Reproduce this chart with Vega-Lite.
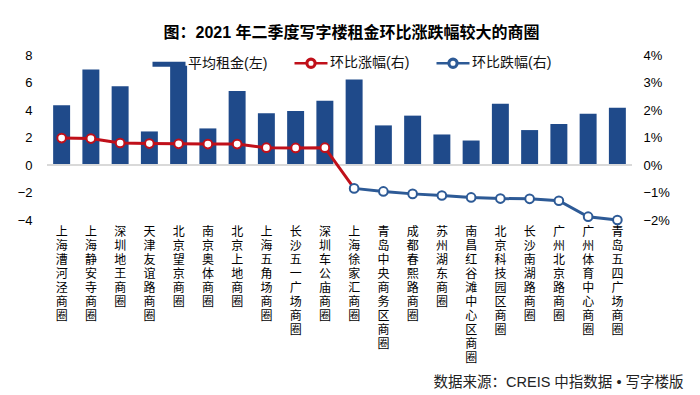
{
  "$schema": "https://vega.github.io/schema/vega-lite/v6.json",
  "autosize": {"type": "none"},
  "width": 585,
  "height": 165,
  "padding": {"left": 47, "top": 55, "right": 68, "bottom": 175},
  "background": "white",
  "config": {
    "font": "Liberation Sans, Noto Sans CJK SC",
    "view": {"stroke": null}
  },
  "title": {
    "text": "图：2021 年二季度写字楼租金环比涨跌幅较大的商圈",
    "font": "Liberation Sans, Noto Sans CJK SC",
    "fontSize": 16,
    "fontWeight": "bold",
    "color": "#000000",
    "anchor": "middle",
    "offset": 8,
    "dy": 4,
    "dx": 12
  },
  "data": {
    "values": [
      {"name": "上海漕河泾商圈", "rent": 4.34, "up": 0.0098, "upLine": 0.0098, "down": null},
      {"name": "上海静安寺商圈", "rent": 6.95, "up": 0.0096, "upLine": 0.0096, "down": null},
      {"name": "深圳地王商圈", "rent": 5.73, "up": 0.0080, "upLine": 0.0080, "down": null},
      {"name": "天津友谊路商圈", "rent": 2.44, "up": 0.0078, "upLine": 0.0078, "down": null},
      {"name": "北京望京商圈", "rent": 7.22, "up": 0.0077, "upLine": 0.0077, "down": null},
      {"name": "南京奥体商圈", "rent": 2.66, "up": 0.0076, "upLine": 0.0076, "down": null},
      {"name": "北京上地商圈", "rent": 5.39, "up": 0.0076, "upLine": 0.0076, "down": null},
      {"name": "上海五角场商圈", "rent": 3.76, "up": 0.0063, "upLine": 0.0063, "down": null},
      {"name": "长沙五一广场商圈", "rent": 3.93, "up": 0.0062, "upLine": 0.0062, "down": null},
      {"name": "深圳车公庙商圈", "rent": 4.68, "up": 0.0063, "upLine": 0.0063, "down": null},
      {"name": "上海徐家汇商圈", "rent": 6.22, "up": null, "upLine": -0.0085, "down": -0.0085},
      {"name": "青岛中央商务区商圈", "rent": 2.88, "up": null, "upLine": null, "down": -0.0096},
      {"name": "成都春熙路商圈", "rent": 3.59, "up": null, "upLine": null, "down": -0.0105},
      {"name": "苏州湖东商圈", "rent": 2.22, "up": null, "upLine": null, "down": -0.0111},
      {"name": "南昌红谷滩中心区商圈", "rent": 1.78, "up": null, "upLine": null, "down": -0.0118},
      {"name": "北京科技园区商圈", "rent": 4.46, "up": null, "upLine": null, "down": -0.0122},
      {"name": "长沙南湖路商圈", "rent": 2.54, "up": null, "upLine": null, "down": -0.0123},
      {"name": "广州北京路商圈", "rent": 2.98, "up": null, "upLine": null, "down": -0.0130},
      {"name": "广州体育中心商圈", "rent": 3.73, "up": null, "upLine": null, "down": -0.0188},
      {"name": "青岛五四广场商圈", "rent": 4.17, "up": null, "upLine": null, "down": -0.0200}
    ]
  },
  "encoding": {
    "x": {
      "field": "name",
      "type": "nominal",
      "sort": null,
      "scale": {"paddingInner": 0.42, "paddingOuter": 0.21},
      "axis": {
        "orient": "bottom",
        "domain": false,
        "ticks": false,
        "labelAngle": 0,
        "labelExpr": "split(datum.label, '')",
        "labelFont": "Noto Sans CJK SC",
        "labelFontSize": 12,
        "labelLineHeight": 14,
        "labelBaseline": "top",
        "labelPadding": 6,
        "labelColor": "#000000",
        "labelLimit": 0,
        "title": "数据来源：CREIS 中指数据 • 写字楼版",
        "titleFont": "Liberation Sans, Noto Sans CJK SC",
        "titleFontSize": 14.5,
        "titleFontWeight": "normal",
        "titleColor": "#222222",
        "titleAnchor": "end",
        "titleAlign": "right",
        "titleBaseline": "middle",
        "titleX": 636,
        "titleY": 162
      }
    }
  },
  "layer": [
    {
      "mark": {"type": "bar"},
      "encoding": {
        "y": {
          "field": "rent",
          "type": "quantitative",
          "scale": {"domain": [-4, 8], "nice": false, "zero": false},
          "axis": {
            "orient": "left",
            "values": [-4, -2, 0, 2, 4, 6, 8],
            "grid": false,
            "domain": false,
            "ticks": false,
            "labelPadding": 15,
            "labelFontSize": 13,
            "labelColor": "#000000",
            "title": null
          }
        },
        "color": {
          "datum": "平均租金(左)",
          "type": "nominal",
          "scale": {
            "domain": ["平均租金(左)", "环比涨幅(右)", "环比跌幅(右)"],
            "range": ["#1f4a8a", "#c0101a", "#2d5a96"]
          },
          "legend": {
            "orient": "none",
            "legendX": 104,
            "legendY": -10,
            "direction": "horizontal",
            "title": null,
            "symbolSize": 1089,
            "labelFont": "Liberation Sans, Noto Sans CJK SC",
            "labelFontSize": 14,
            "labelColor": "#111111",
            "labelOffset": 1,
            "columnPadding": 21,
            "labelLimit": 0,
            "encode": {
              "symbols": {
                "update": {
                  "shape": {"signal": "datum.value === '平均租金(左)' ? 'M-1,-0.15H1V0.15H-1Z' : 'M-1,0H-0.27M0.27,0H1M-0.27,0A0.27,0.27 0 1,1 0.27,0A0.27,0.27 0 1,1 -0.27,0ZM-0.23,0A0.23,0.23 0 1,0 0.23,0A0.23,0.23 0 1,0 -0.23,0Z'"},
                  "stroke": {"signal": "datum.value === '平均租金(左)' ? 'transparent' : (datum.value === '环比涨幅(右)' ? '#c0101a' : '#2d5a96')"},
                  "strokeWidth": {"value": 2.5},
                  "opacity": {"value": 1}
                }
              }
            }
          }
        }
      }
    },
    {
      "mark": {"type": "rule", "color": "#d9d9d9", "strokeWidth": 2},
      "encoding": {
        "x": {"value": 0},
        "x2": {"value": 585},
        "y": {"datum": 0, "type": "quantitative", "scale": {"domain": [-4, 8], "nice": false, "zero": false}, "axis": null}
      }
    },
    {
      "layer": [
        {
          "mark": {"type": "line", "color": "#c0101a", "strokeWidth": 3},
          "encoding": {
            "y": {"field": "upLine", "type": "quantitative"}
          }
        },
        {
          "mark": {"type": "line", "color": "#2d5a96", "strokeWidth": 3},
          "encoding": {
            "y": {"field": "down", "type": "quantitative"}
          }
        },
        {
          "mark": {"type": "point", "shape": "circle", "filled": true, "fill": "#ffffff", "stroke": "#c0101a", "strokeWidth": 2, "size": 75, "opacity": 1},
          "encoding": {
            "y": {"field": "up", "type": "quantitative"}
          }
        },
        {
          "mark": {"type": "point", "shape": "circle", "filled": true, "fill": "#ffffff", "stroke": "#2d5a96", "strokeWidth": 2, "size": 75, "opacity": 1},
          "encoding": {
            "y": {"field": "down", "type": "quantitative"}
          }
        }
      ],
      "encoding": {
        "y": {
          "type": "quantitative",
          "scale": {"domain": [-0.02, 0.04], "nice": false, "zero": false},
          "axis": {
            "orient": "right",
            "values": [-0.02, -0.01, 0, 0.01, 0.02, 0.03, 0.04],
            "format": ".0%",
            "grid": false,
            "domain": false,
            "ticks": false,
            "labelPadding": 11,
            "labelFontSize": 13,
            "labelColor": "#000000",
            "title": null
          }
        }
      }
    }
  ],
  "resolve": {"scale": {"y": "independent"}}
}
